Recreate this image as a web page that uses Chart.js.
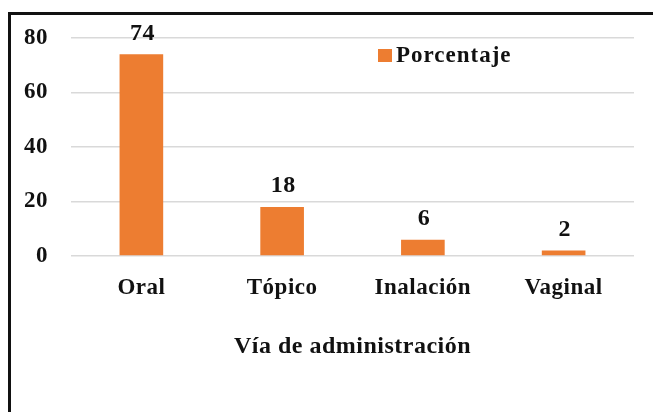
<!DOCTYPE html>
<html lang="es">
<head>
  <meta charset="UTF-8">
  <title>Vía de administración</title>
  <script src="https://cdn.jsdelivr.net/npm/chart.js@4.4.1/dist/chart.umd.min.js"></script>
  <style>
    html, body {
      margin: 0;
      padding: 0;
      background: #fff;
      overflow: hidden;
    }
    #wrap {
      position: relative;
      width: 653px;
      height: 412px;
    }
    #frame {
      position: absolute;
      left: 8px;
      top: 12px;
      width: 700px;
      height: 500px;
      border-left: 3px solid #111;
      border-top: 3px solid #111;
      pointer-events: none;
    }
    canvas {
      position: absolute;
      left: 0;
      top: 0;
    }
  </style>
</head>
<body>
  <div id="wrap">
    <canvas id="chart" width="653" height="412"></canvas>
    <div id="frame"></div>
  </div>

  <script>
    const categories = ['Oral', 'Tópico', 'Inalación', 'Vaginal'];
    const porcentaje = [74, 18, 6, 2];
    const seriesName = 'Porcentaje';
    const yTicks = [0, 20, 40, 60, 80];

    const FONT = '"Liberation Serif", "Times New Roman", serif';
    const ORANGE = '#ED7D31';
    const INK = '#111';

    // Word-like letter spacing on every text draw
    const spacingPlugin = {
      id: 'spacing',
      beforeDraw(chart) {
        chart.ctx.letterSpacing = '0.5px';
      }
    };

    // value labels above the bars
    const valueLabels = {
      id: 'valueLabels',
      afterDatasetsDraw(chart) {
        const ctx = chart.ctx;
        const meta = chart.getDatasetMeta(0);
        ctx.save();
        ctx.font = 'bold 24px ' + FONT;
        ctx.fillStyle = INK;
        ctx.textAlign = 'center';
        ctx.textBaseline = 'middle';
        meta.data.forEach((bar, i) => {
          ctx.fillText(String(porcentaje[i]), bar.x + 1, bar.y - 21);
        });
        ctx.restore();
      }
    };

    // legend drawn inside the plot area, top right
    const innerLegend = {
      id: 'innerLegend',
      afterDraw(chart) {
        const ctx = chart.ctx;
        const area = chart.chartArea;
        const x = area.left + 307;
        const y = area.top + 17;
        ctx.save();
        ctx.fillStyle = ORANGE;
        ctx.fillRect(x, y - 6, 14, 13);
        ctx.font = 'bold 23px ' + FONT;
        ctx.fillStyle = INK;
        ctx.textAlign = 'left';
        ctx.textBaseline = 'middle';
        ctx.letterSpacing = '1px';
        ctx.fillText(seriesName, x + 18, y + 1);
        ctx.restore();
      }
    };

    new Chart(document.getElementById('chart'), {
      type: 'bar',
      data: {
        labels: categories,
        datasets: [{
          label: seriesName,
          data: porcentaje,
          backgroundColor: ORANGE,
          borderWidth: 0,
          barPercentage: 0.62,
          categoryPercentage: 0.5
        }]
      },
      options: {
        responsive: false,
        animation: false,
        layout: { padding: { left: 0, right: 19, top: 38, bottom: 0 } },
        plugins: {
          legend: { display: false },
          tooltip: { enabled: false }
        },
        scales: {
          x: {
            grid: { display: false },
            border: { display: false },
            ticks: {
              color: INK,
              font: { family: FONT, size: 23, weight: 'bold' },
              padding: 10,
              maxRotation: 0
            },
            title: {
              display: true,
              text: 'Vía de administración',
              color: INK,
              font: { family: FONT, size: 24, weight: 'bold' },
              padding: { top: 0, bottom: 51 }
            },
            afterFit(scale) { scale.height = 156; }
          },
          y: {
            min: 0,
            max: 80,
            afterBuildTicks(scale) {
              scale.ticks = yTicks.map(v => ({ value: v }));
            },
            grid: {
              color: '#d9d9d9',
              lineWidth: 1.5,
              drawTicks: false
            },
            border: { display: false },
            ticks: {
              color: INK,
              font: { family: FONT, size: 23, weight: 'bold' },
              padding: 23
            },
            afterFit(scale) { scale.width = 71; }
          }
        }
      },
      plugins: [spacingPlugin, valueLabels, innerLegend]
    });
  </script>
</body>
</html>
